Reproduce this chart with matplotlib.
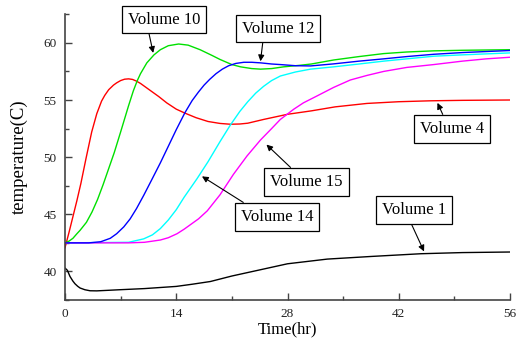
import matplotlib
matplotlib.use("Agg")
import matplotlib.pyplot as plt
from matplotlib.ticker import MultipleLocator

# Volume 4 (red)
t_v4 = [0, 0.5, 1, 1.5, 2, 2.65, 3.36, 4.0, 4.6, 5.0, 5.5, 6.1, 6.5, 7, 7.5, 8, 8.5, 9, 9.5, 10, 10.7,
        11.8, 12.8, 14, 15.1, 16.5, 18, 19.5, 20.8, 22, 23, 25, 28, 31, 34, 38, 42, 46, 50, 56]
v_v4 = [42.07, 43.4, 44.8, 46.2, 47.7, 49.9, 52.2, 53.8, 54.9, 55.4, 55.9, 56.3, 56.5, 56.7, 56.82, 56.85,
        56.8, 56.65, 56.45, 56.2, 55.85, 55.3, 54.75, 54.2, 53.85, 53.45, 53.12, 52.95, 52.88, 52.9, 52.97,
        53.3, 53.75, 54.05, 54.4, 54.7, 54.85, 54.93, 54.97, 55.0]

# Volume 10 (green)
t_v10 = [0, 0.5, 1, 1.5, 1.9, 2.7, 3.4, 4.1, 4.8, 5.5, 6.2, 7.0, 8.0, 8.6, 9.1, 9.5, 10.3, 11.2, 12,
         13, 14.3, 15.5, 17, 18.5, 19.5, 21, 22.1, 23.5, 24.6, 26, 27.5, 29.6, 31, 33.8, 37, 40.1, 43,
         46.4, 50, 56]
v_v10 = [42.5, 42.65, 42.9, 43.3, 43.6, 44.3, 45.2, 46.3, 47.6, 49.0, 50.4, 52.2, 54.5, 55.8, 56.7, 57.3,
         58.25, 58.95, 59.4, 59.75, 59.9, 59.8, 59.4, 58.9, 58.55, 58.1, 57.9, 57.75, 57.7, 57.75, 57.9,
         58.04, 58.15, 58.5, 58.8, 59.06, 59.2, 59.3, 59.35, 59.4]

# Volume 12 (blue)
t_v12 = [0, 3, 4.5, 5.7, 6.5, 7.4, 8.2, 9, 9.9, 10.9, 12, 13, 14, 15.1, 16, 16.8, 17.5, 18.2, 19, 19.8,
         20.6, 21.5, 22.5, 23.5, 24.6, 26, 27.1, 29, 30.9, 33.8, 37, 40.1, 43, 46.4, 50, 56]
v_v12 = [42.5, 42.5, 42.6, 42.9, 43.3, 43.9, 44.6, 45.5, 46.65, 48.0, 49.5, 50.95, 52.4, 53.9, 54.95,
         55.7, 56.3, 56.8, 57.3, 57.7, 58.0, 58.2, 58.3, 58.3, 58.25, 58.15, 58.1, 58.0, 57.98, 58.16, 58.4,
         58.6, 58.8, 59.0, 59.15, 59.33]

# Volume 15 (cyan)
t_v15 = [0, 8, 9.9, 11, 12, 13, 14, 15, 16.6, 18, 19.5, 20.8, 22, 23, 24, 25, 26, 27.1, 29, 30.9, 33.8,
         37, 40.1, 43, 46.4, 50, 56]
v_v15 = [42.5, 42.55, 42.85, 43.2, 43.75, 44.5, 45.4, 46.5, 48.1, 49.6, 51.35, 52.8, 54.0, 54.85, 55.6,
         56.2, 56.7, 57.1, 57.45, 57.7, 57.9, 58.15, 58.4, 58.6, 58.83, 58.95, 59.12]

# Volume 14 (magenta)
t_v14 = [0, 8, 10, 12, 13, 14.1, 15, 15.8, 16.8, 17.9, 19.5, 21.2, 22.9, 24.6, 26, 27.1, 28.8, 30, 31.7,
         33.8, 35.9, 38, 40.1, 43, 46.4, 50, 53, 56]
v_v14 = [42.5, 42.5, 42.55, 42.75, 42.95, 43.3, 43.7, 44.1, 44.6, 45.3, 46.7, 48.5, 50.1, 51.5, 52.5,
         53.3, 54.2, 54.75, 55.35, 56.1, 56.75, 57.15, 57.5, 57.85, 58.1, 58.4, 58.6, 58.74]

# Volume 1 (black)
t_v1 = [0, 0.3, 0.63, 1.0, 1.26, 1.6, 1.9, 2.5, 3.15, 4, 6.9, 10, 14, 16, 18.3, 21, 24.6, 28, 33, 38.5,
        44.8, 50, 56]
v_v1 = [40.3, 40.1, 39.56, 39.15, 38.92, 38.7, 38.55, 38.4, 38.31, 38.3, 38.4, 38.5, 38.69, 38.88, 39.12,
        39.6, 40.15, 40.67, 41.08, 41.31, 41.55, 41.65, 41.7]

plt.rcParams['font.family'] = ['Liberation Serif', 'DejaVu Serif']

fig = plt.figure(figsize=(5.17, 3.40), dpi=100)
ax = fig.add_axes([0.1257, 0.1176, 0.8608, 0.8404])

ax.plot(t_v4, v_v4, color='#ff0000', lw=1.0)
ax.plot(t_v10, v_v10, color='#00e000', lw=1.0)
ax.plot(t_v15, v_v15, color='#00ffff', lw=1.0)
ax.plot(t_v14, v_v14, color='#ff00ff', lw=1.0)
ax.plot(t_v12, v_v12, color='#0000ff', lw=1.0)
ax.plot(t_v1, v_v1, color='black', lw=1.0)

ax.set_xlim(0, 56)
ax.set_ylim(37.5, 62.5)
ax.xaxis.set_major_locator(MultipleLocator(14))
ax.xaxis.set_minor_locator(MultipleLocator(7))
ax.yaxis.set_minor_locator(MultipleLocator(2.5))
ax.set_yticks([40, 45, 50, 55, 60])

for side in ['top', 'right']:
    ax.spines[side].set_visible(False)
for side in ['left', 'bottom']:
    ax.spines[side].set_color('#444444')
    ax.spines[side].set_linewidth(1.2)

ax.tick_params(which='both', direction='in', colors='#444444', labelcolor='#222222')
ax.tick_params(which='major', length=5, width=1.0, labelsize=9.5, pad=6)
ax.tick_params(which='minor', length=3, width=1.0)

ax.set_xlabel('Time(hr)', fontsize=12, labelpad=1)
ax.set_ylabel('temperature(C)', fontsize=13.5, labelpad=11)

# labels: (text, box centre, arrow tip, arrow start on box)
notes = [
    ("Volume 10", (12.5, 62.04), (11.1, 59.12), (0.27, 0)),
    ("Volume 12", (26.8, 61.25), (24.6, 58.39), (0.3, 0)),
    ("Volume 4", (48.7, 52.49), (46.87, 54.75), (0.4, 1)),
    ("Volume 15", (30.4, 47.85), (25.35, 51.1), (0.37, 1)),
    ("Volume 14", (26.7, 44.79), (17.24, 48.32), (0.17, 1)),
    ("Volume 1", (43.9, 45.36), (45.18, 41.75), (0.42, 0)),
]
for text, xyt, xy, rp in notes:
    ax.annotate(text, xy=xy, xytext=xyt, ha='center', va='center', fontsize=12,
                annotation_clip=False,
                bbox=dict(boxstyle='square,pad=0.35', fc='white', ec='black', lw=0.9),
                arrowprops=dict(arrowstyle='-|>', color='black', lw=0.8,
                                mutation_scale=9, relpos=rp, shrinkA=0, shrinkB=0))

fig.savefig('out.png', dpi=100)
